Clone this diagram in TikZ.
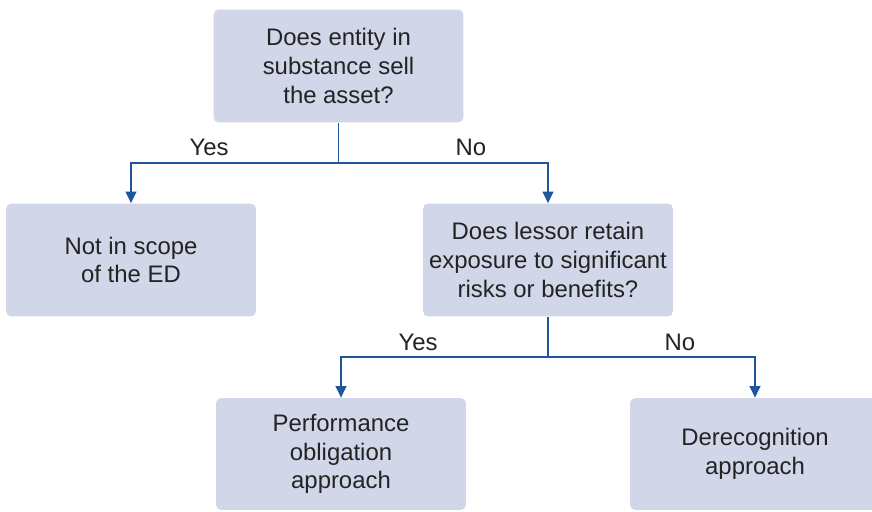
\documentclass[tikz,border=0pt]{standalone}
\usepackage{fontspec}
\setmainfont{Liberation Sans}
\usetikzlibrary{arrows.meta}

\definecolor{boxfill}{HTML}{D1D6E8}
\definecolor{flowblue}{HTML}{1F559C}
\definecolor{boxtext}{HTML}{232323}

\tikzset{
  qbox/.style={fill=boxfill, rounded corners=3pt, minimum width=5cm,
    minimum height=2.26cm, align=center, text=boxtext,
    font=\fontsize{13.6}{16.4}\selectfont, inner sep=0pt},
  flow/.style={draw=flowblue, line width=1.1pt},
  flowarrow/.style={flow, -{Triangle[length=6.5pt,width=6pt]}},
  answer/.style={text=boxtext, font=\fontsize{13.6}{16.4}\selectfont},
}

\begin{document}
\begin{tikzpicture}[x=0.02cm, y=-0.02cm]
\useasboundingbox (0,0) rectangle (872,511);

% questions and outcomes
\node[qbox] (qSell)   at (338.5, 66) {Does entity in\\substance sell\\the asset?};
\node[qbox] (oScope)  at (131, 260)  {Not in scope\\of the ED};
\node[qbox] (qRisk)   at (548, 260)  {Does lessor retain\\exposure to significant\\risks or benefits?};
\node[qbox, minimum height=2.24cm] (oPerf)  at (341, 454) {Performance\\obligation\\approach};
\node[qbox, minimum height=2.24cm] (oDerec) at (755, 454) {Derecognition\\approach};

% branch points
\coordinate (sSell) at (338.5, 163);
\coordinate (sRisk) at (548, 357);

\draw[flow] (qSell.south) -- (sSell);
\draw[flowarrow] (sSell) -| (oScope.north);
\draw[flowarrow] (sSell) -| (qRisk.north);

\draw[flow] (qRisk.south) -- (sRisk);
\draw[flowarrow] (sRisk) -| (oPerf.north);
\draw[flowarrow] (sRisk) -| (oDerec.north);

% answers
\node[answer] (aSellYes) at (209, 147) {Yes};
\node[answer] (aSellNo)  at (471, 147) {No};
\node[answer] (aRiskYes) at (418, 342) {Yes};
\node[answer] (aRiskNo)  at (680, 342) {No};

\end{tikzpicture}
\end{document}
